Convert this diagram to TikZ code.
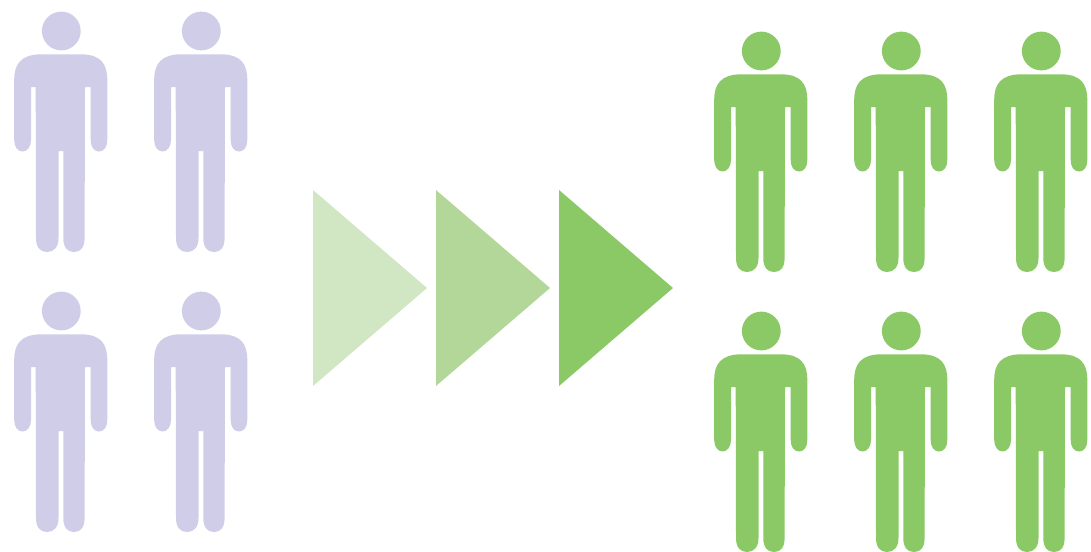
\documentclass[tikz,border=0pt]{standalone}
\definecolor{lilac}{HTML}{D0CDE8}
\definecolor{grass}{HTML}{8BC866}
\definecolor{grassA}{HTML}{D1E6C3}
\definecolor{grassB}{HTML}{B2D798}
\tikzset{
  person/.pic={
    \fill[pic actions] (61.3,31) circle[radius=19.4];
    \fill[pic actions]
      (14.2,80) .. controls (14.2,64) and (21,54.5) .. (41,54.3)
      -- (81,54.3) .. controls (101,54.5) and (107.3,64) .. (107.3,80)
      -- (107.3,140) .. controls (107.3,147) and (104,151.5) .. (99,151.5)
      .. controls (94,151.5) and (90.7,147) .. (90.7,140)
      -- (90.7,87) -- (85,87)
      -- (84.6,238) .. controls (84.6,247) and (81,252) .. (74,252)
      .. controls (67,252) and (63.3,247) .. (63.3,238)
      -- (63.3,151) -- (58.5,151)
      -- (58.5,238) .. controls (58.5,247) and (54,252) .. (47,252)
      .. controls (40,252) and (36,247) .. (36,238)
      -- (35.7,87) -- (31,87)
      -- (31,140) .. controls (31,147) and (27,151.5) .. (22.6,151.5)
      .. controls (18,151.5) and (14.2,147) .. (14.2,140) -- cycle;
  },
  lilacman/.style={fill=lilac},
  greenman/.style={fill=grass}
}
\begin{document}
\begin{tikzpicture}[x=1pt,y=-1pt]
\useasboundingbox (0,0) rectangle (1091,551);
\clip (0,0) rectangle (1091,551);
\foreach \dx in {0,140} \foreach \dy in {0,280}
  \pic[lilacman] at (\dx,\dy) {person};
\foreach \dx in {700,840,980} \foreach \dy in {20,300}
  \pic[greenman] at (\dx,\dy) {person};
\fill[grassA] (313,190) -- (427,288) -- (313,386) -- cycle;
\fill[grassB] (436,190) -- (550,288) -- (436,386) -- cycle;
\fill[grass] (559,190) -- (673,288) -- (559,386) -- cycle;
\end{tikzpicture}
\end{document}
